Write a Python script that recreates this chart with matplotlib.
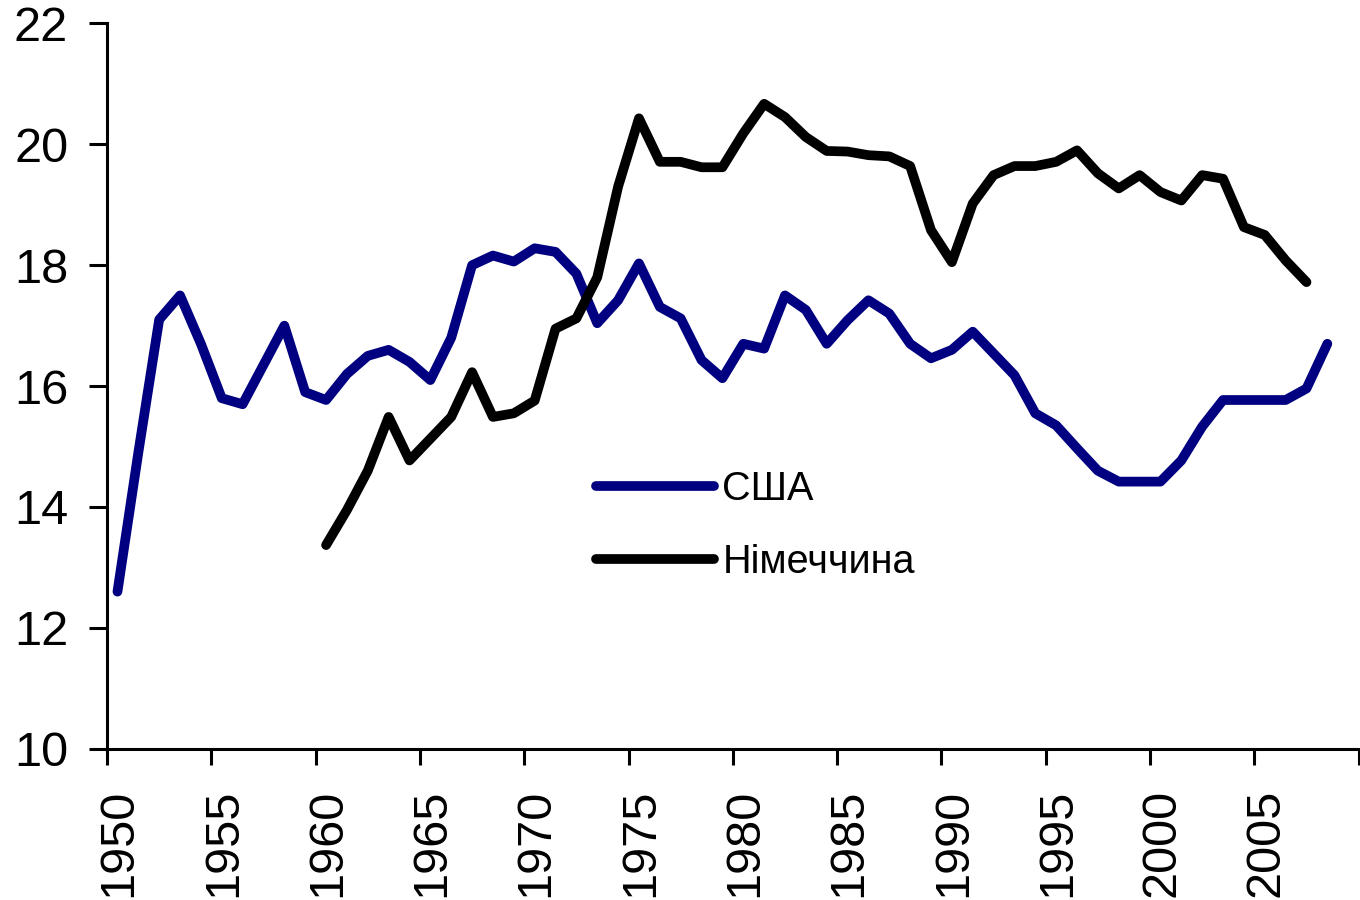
import matplotlib
matplotlib.use("Agg")
import matplotlib.pyplot as plt
import matplotlib.transforms as mtransforms

# Data
usa_years = list(range(1950, 2009))
usa = [12.6, 14.9, 17.1, 17.5, 16.7, 15.8, 15.7, 16.35, 17.0, 15.9,
       15.77, 16.2, 16.5, 16.6, 16.4, 16.1, 16.8, 18.0, 18.16, 18.06,
       18.28, 18.22, 17.86, 17.04, 17.42, 18.03, 17.31, 17.12, 16.43, 16.13,
       16.7, 16.62, 17.5, 17.26, 16.7, 17.09, 17.42, 17.2, 16.7, 16.46,
       16.6, 16.9, 16.54, 16.18, 15.55, 15.35, 14.97, 14.6, 14.42, 14.42,
       14.42, 14.77, 15.33, 15.77, 15.77, 15.77, 15.77, 15.96, 16.7]

ger_years = list(range(1960, 2008))
ger = [13.37, 13.95, 14.6, 15.49, 14.77, 15.13, 15.49, 16.23, 15.49, 15.55,
       15.76, 16.95, 17.12, 17.8, 19.3, 20.43, 19.71, 19.71, 19.62, 19.62,
       20.18, 20.67, 20.45, 20.12, 19.89, 19.88, 19.82, 19.8, 19.64, 18.58,
       18.05, 19.02, 19.49, 19.64, 19.64, 19.71, 19.9, 19.52, 19.27, 19.49,
       19.21, 19.07, 19.49, 19.43, 18.63, 18.5, 18.08, 17.72]

xticks = list(range(1950, 2011, 5))
xlabels = [str(y) for y in xticks[:-1]] + [""]
yticks = [10, 12, 14, 16, 18, 20, 22]

plt.rcParams["font.family"] = ["Liberation Sans", "DejaVu Sans"]

fig = plt.figure(figsize=(13.6, 9), dpi=100)
ax = fig.add_axes([0.0787, 0.168, 0.9203, 0.806])

# categories are centred between tick marks (Excel style)
ax.plot([y + 0.5 for y in usa_years], usa, color="#000080", lw=7,
        solid_joinstyle="round", solid_capstyle="round", label="США")
ax.plot([y + 0.5 for y in ger_years], ger, color="black", lw=7,
        solid_joinstyle="round", solid_capstyle="round", label="Німеччина")

ax.set_xlim(1950, 2010)
ax.set_ylim(10, 22)
ax.set_xticks(xticks)
ax.set_xticklabels(xlabels, rotation=90, fontsize=35)
ax.set_yticks(yticks)
ax.set_yticklabels([str(v) for v in yticks], fontsize=35)

for s in ["top", "right"]:
    ax.spines[s].set_visible(False)
for s in ["left", "bottom"]:
    ax.spines[s].set_linewidth(2.2)
ax.tick_params(axis="both", direction="out", width=2.2)
ax.tick_params(axis="x", length=11.5, pad=17)
ax.tick_params(axis="y", length=13, pad=15)

# year labels sit a little to the right of their ticks
# (done after tick_params, which resets label transforms)
shift = mtransforms.ScaledTranslation(12 / 100, 0, fig.dpi_scale_trans)
for lab in ax.get_xticklabels():
    lab.set_transform(lab.get_transform() + shift)

leg = ax.legend(loc="upper left", bbox_to_anchor=(0.391, 0.384), frameon=False,
                fontsize=28.5, handlelength=2.98, handletextpad=0.2,
                labelspacing=0.88, borderaxespad=0, borderpad=0)

fig.savefig("out.png", dpi=100, facecolor="white")
